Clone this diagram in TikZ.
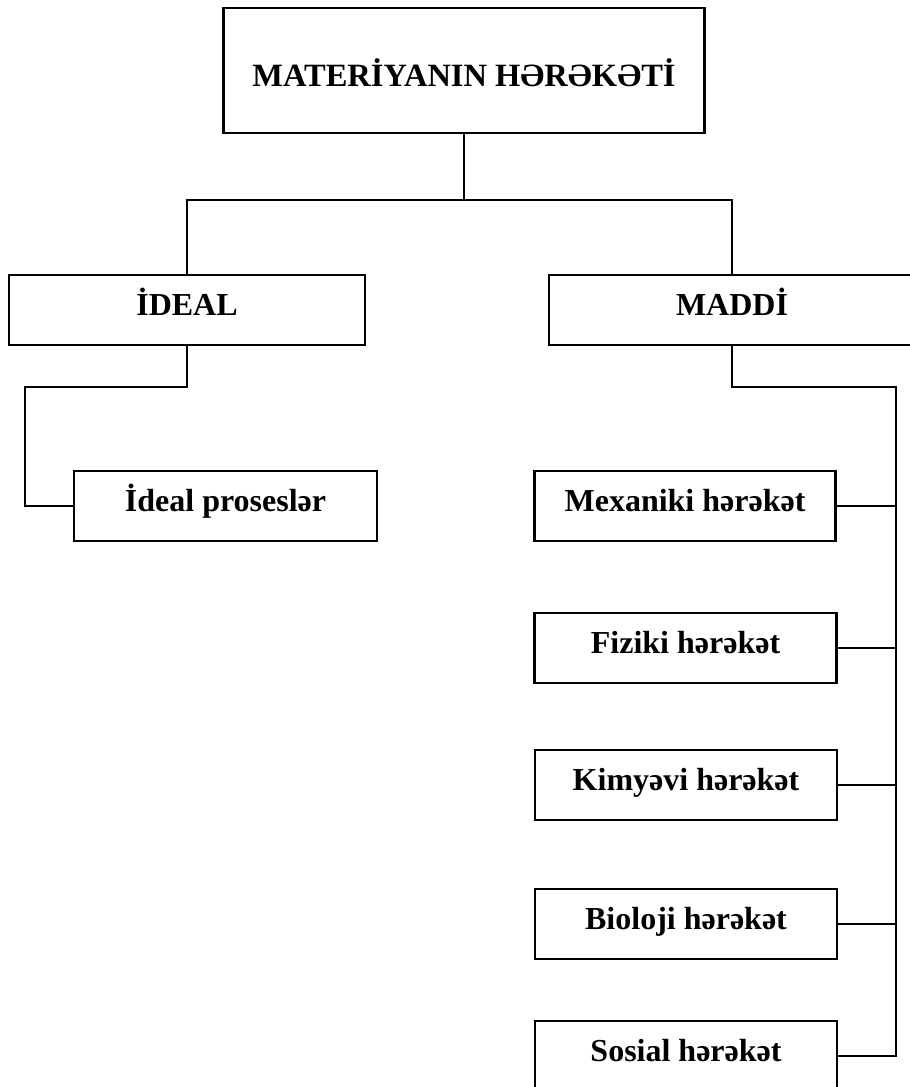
\documentclass[tikz,border=0pt]{standalone}
\usepackage{fontspec}
\setmainfont{Liberation Serif}
\begin{document}
\begin{tikzpicture}[x=1pt,y=-1pt,
  line width=2.1pt,
  box/.style={draw=black, rectangle, inner sep=0pt, font=\fontsize{32}{36}\selectfont\bfseries,
    text height=40pt, text depth=30pt},
  link/.style={draw=black, line width=2.1pt}]
\fill[white] (0,0) rectangle (910,1087);
\useasboundingbox (0,0) rectangle (910,1087);
\clip (0,0) rectangle (910,1087);
% top
\node[box, font=\fontsize{32.5}{36}\selectfont\bfseries, minimum width=481pt, text height=78pt, text depth=47pt] (top) at (464,7) [anchor=north] {MATERİYANIN HƏRƏKƏTİ};
% second level
\node[box, minimum width=356pt, anchor=north] (ideal) at (187,274) {İDEAL};
\node[box, minimum width=366pt, anchor=north] (maddi) at (732,274) {MADDİ};
% ideal child
\node[box, minimum width=303pt, anchor=north] (proc) at (225.5,470) {İdeal proseslər};
% maddi children
\node[box, minimum width=301pt, anchor=north] (mex) at (685,470) {Mexaniki hərəkət};
\node[box, minimum width=302pt, anchor=north] (fiz) at (685.5,612) {Fiziki hərəkət};
\node[box, minimum width=302pt, anchor=north] (kim) at (686,749) {Kimyəvi hərəkət};
\node[box, minimum width=302pt, anchor=north] (bio) at (686,888) {Bioloji hərəkət};
\node[box, minimum width=302pt, anchor=north] (sos) at (686,1020) {Sosial hərəkət};
% junction coordinates
\coordinate (j) at (464,200);
\coordinate (il) at (25,387);
\coordinate (mr) at (896,387);
% connectors
\draw[link] (top.south) -- (top.south |- j);
\draw[link] (ideal.north) |- (j) -| (maddi.north);
\draw[link] (ideal.south) |- (il) |- (proc.west);
\draw[link] (maddi.south) |- (mr) |- (sos.east);
\draw[link] (mex.east) -- (mex.east -| mr);
\draw[link] (fiz.east) -- (fiz.east -| mr);
\draw[link] (kim.east) -- (kim.east -| mr);
\draw[link] (bio.east) -- (bio.east -| mr);
\end{tikzpicture}
\end{document}
